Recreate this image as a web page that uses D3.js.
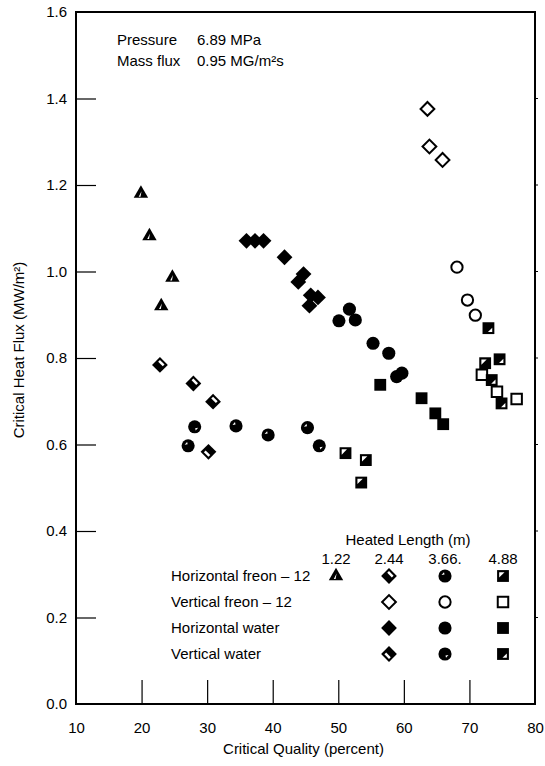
<!DOCTYPE html>
<html>
<head>
<meta charset="utf-8">
<script src="https://cdn.jsdelivr.net/npm/d3@7"></script>
<style>
body { margin: 0; background: #fff; }
text { font-family: "Liberation Sans", Arial, Helvetica, sans-serif; fill: #000; }
</style>
</head>
<body>
<svg id="svg1" width="545" height="766"></svg>
<script>
// data: [critical quality %, critical heat flux MW/m2]
var hFreon122 = [[19.9, 1.18], [21.2, 1.082], [24.7, 0.986], [23.0, 0.92]];
var hFreon244 = [[22.8, 0.784], [27.9, 0.741], [30.9, 0.699]];
var hFreon366 = [[27.1, 0.597], [34.4, 0.643], [39.3, 0.622], [45.3, 0.639]];
var hFreon488 = [[51.1, 0.580], [54.2, 0.564], [53.5, 0.512], [72.4, 0.788]];
var vFreon244 = [[63.6, 1.376], [63.9, 1.289], [65.9, 1.258]];
var vFreon366 = [[68.1, 1.010], [69.7, 0.934], [70.9, 0.899]];
var vFreon488 = [[71.9, 0.761], [74.2, 0.722], [77.2, 0.705]];
var hWater244 = [[36.0, 1.071], [37.3, 1.071], [38.6, 1.071], [41.8, 1.033],
                 [44.7, 0.994], [43.9, 0.976], [45.8, 0.945], [46.9, 0.940], [45.6, 0.921]];
var hWater366 = [[51.7, 0.913], [50.1, 0.886], [52.6, 0.888], [55.3, 0.834],
                 [57.7, 0.811], [58.9, 0.757], [59.7, 0.765]];
var hWater488 = [[56.4, 0.738], [62.7, 0.707], [64.8, 0.672], [66.0, 0.647]];
var vWater244 = [[30.2, 0.583]];
var vWater366 = [[28.1, 0.641], [47.1, 0.597]];
var vWater488 = [[72.9, 0.869], [74.6, 0.797], [73.4, 0.749], [74.9, 0.695]];

var xTicks = [10, 20, 30, 40, 50, 60, 70, 80];
var yTicks = [0.0, 0.2, 0.4, 0.6, 0.8, 1.0, 1.2, 1.4, 1.6];
var lengthLabels = ['1.22', '2.44', '3.66.', '4.88'];
var rowLabels = ['Horizontal freon \u2013 12', 'Vertical freon \u2013 12', 'Horizontal water', 'Vertical water'];
// legend grid: which marker style sits in each row/column (null = empty)
var legendGrid = [
    ['tri', 'diaH', 'circH', 'sqH'],
    [null, 'diaO', 'circO', 'sqO'],
    [null, 'diaF', 'circF', 'sqF'],
    [null, 'diaV', 'circV', 'sqV']
];

var series = [
    {data: hFreon122, style: 'tri'},
    {data: hFreon244, style: 'diaH'},
    {data: hFreon366, style: 'circH'},
    {data: hFreon488, style: 'sqH'},
    {data: vFreon244, style: 'diaO'},
    {data: vFreon366, style: 'circO'},
    {data: vFreon488, style: 'sqO'},
    {data: hWater244, style: 'diaF'},
    {data: hWater366, style: 'circF'},
    {data: hWater488, style: 'sqF'},
    {data: vWater244, style: 'diaV'},
    {data: vWater366, style: 'circV'},
    {data: vWater488, style: 'sqV'}
];

var svg = d3.select('#svg1');
var plot = {l: 76, r: 535, t: 12, b: 704};

var xScale = d3.scaleLinear().domain([10, 80]).range([plot.l, plot.r]);
var yScale = d3.scaleLinear().domain([0, 1.6]).range([plot.b, plot.t]);

// frame
svg.append('rect')
    .attr('x', plot.l).attr('y', plot.t)
    .attr('width', plot.r - plot.l).attr('height', plot.b - plot.t)
    .attr('fill', 'none').attr('stroke', '#000').attr('stroke-width', 2);

// axes with inward ticks
var yAxis = svg.append('g')
    .attr('transform', 'translate(' + plot.l + ',0)')
    .call(d3.axisLeft(yScale).tickValues(yTicks).tickSize(-20).tickPadding(9)
        .tickFormat(d3.format('.1f')));
yAxis.select('.domain').remove();
yAxis.selectAll('.tick line').attr('stroke-width', 1.2)
    .filter(function(d) { return d === 0 || d === 1.6; }).remove();
yAxis.selectAll('.tick text').style('font-size', '15px').attr('fill', '#000');

var xAxis = svg.append('g')
    .attr('transform', 'translate(0,' + plot.b + ')')
    .call(d3.axisBottom(xScale).tickValues(xTicks).tickSize(-24).tickPadding(18));
xAxis.select('.domain').remove();
xAxis.selectAll('.tick line').attr('stroke-width', 1.2)
    .filter(function(d) { return d === 10 || d === 80; }).remove();
xAxis.selectAll('.tick text').style('font-size', '15px').attr('fill', '#000');

// right side small ticks
svg.append('g').selectAll('line')
    .data(yTicks.slice(1, -1))
    .enter().append('line')
    .attr('x1', plot.r).attr('x2', plot.r + 3)
    .attr('y1', function(d) { return yScale(d); })
    .attr('y2', function(d) { return yScale(d); })
    .attr('stroke', '#000').attr('stroke-width', 1);

// axis titles
svg.append('text')
    .attr('x', (plot.l + plot.r) / 2 - 2).attr('y', 754)
    .attr('text-anchor', 'middle')
    .style('font-size', '15px')
    .text('Critical Quality (percent)');

svg.append('text')
    .attr('transform', 'translate(24,350) rotate(-90)')
    .attr('text-anchor', 'middle')
    .style('font-size', '15px')
    .text('Critical Heat Flux (MW/m\u00b2)');

// conditions note
var note = svg.append('g').style('font-size', '15px');
note.append('text').attr('x', 117).attr('y', 45).text('Pressure');
note.append('text').attr('x', 197).attr('y', 45).text('6.89 MPa');
note.append('text').attr('x', 117).attr('y', 66).text('Mass flux');
note.append('text').attr('x', 197).attr('y', 66).text('0.95 MG/m\u00b2s');

// marker drawing
var sym = {
    tri: d3.symbol().type(d3.symbolTriangle).size(90)(),
    dia: d3.symbol().type(d3.symbolSquare).size(125)(),
    circ: d3.symbol().type(d3.symbolCircle).size(135)(),
    sq: d3.symbol().type(d3.symbolSquare).size(140)()
};

function drawMarker(g, style) {
    var shape = style.replace(/[HOFV]$/, '');
    var kind = style.slice(-1);
    var rot = shape === 'dia' ? 'rotate(45)' : null;
    if (style === 'tri') {
        g.append('path').attr('d', sym.tri).attr('fill', '#000');
        g.append('path').attr('d', 'M0.6,-2.5 L-2.2,3 L-0.4,3 Z').attr('fill', '#fff');
        return;
    }
    if (kind === 'O') {
        var openSize = {dia: 95, circ: 100, sq: 110}[shape];
        g.append('path')
            .attr('d', d3.symbol().type(shape === 'circ' ? d3.symbolCircle : d3.symbolSquare).size(openSize)())
            .attr('transform', rot)
            .attr('fill', '#fff').attr('stroke', '#000').attr('stroke-width', 2);
        return;
    }
    g.append('path').attr('d', sym[shape]).attr('transform', rot).attr('fill', '#000');
    if (kind === 'F') return;
    // white cut-out: horizontal freon = upper-left, vertical water = lower-right
    var w;
    if (shape === 'circ') {
        w = kind === 'H' ? 'M-3.5,-1 L-1,-3.8 L-0.5,-1.5 Z' : 'M3.5,1 L1,3.8 L0.5,1.5 Z';
        g.append('path').attr('d', w).attr('fill', '#fff');
    } else if (shape === 'sq') {
        w = kind === 'H' ? 'M-3.8,-3.8 L1.5,-3.8 L-3.8,1.5 Z' : 'M3.8,3.8 L-0.5,3.8 L3.8,-0.5 Z';
        g.append('path').attr('d', w).attr('fill', '#fff');
    } else {
        w = kind === 'H' ? 'M-3.5,-3.5 L3,-3.5 L3,-1 L-3.5,-1 Z' : 'M-3,1 L3.5,1 L3.5,3.5 L-3,3.5 Z';
        g.append('path').attr('d', w).attr('transform', rot).attr('fill', '#fff');
    }
}

series.forEach(function(s) {
    svg.append('g').selectAll('g')
        .data(s.data)
        .enter().append('g')
        .attr('transform', function(d) { return 'translate(' + xScale(d[0]) + ',' + yScale(d[1]) + ')'; })
        .each(function() { drawMarker(d3.select(this), s.style); });
});

// legend
var legend = svg.append('g').style('font-size', '15px');
var colX = [336, 389, 445, 503];
var rowY = [576, 602, 628, 654];

legend.append('text')
    .attr('x', 408).attr('y', 545)
    .attr('text-anchor', 'middle')
    .text('Heated Length (m)');

legend.selectAll('.len')
    .data(lengthLabels)
    .enter().append('text')
    .attr('class', 'len')
    .attr('x', function(d, i) { return colX[i]; })
    .attr('y', 564)
    .attr('text-anchor', 'middle')
    .text(function(d) { return d; });

legend.selectAll('.row')
    .data(rowLabels)
    .enter().append('text')
    .attr('class', 'row')
    .attr('x', 171)
    .attr('y', function(d, i) { return rowY[i] + 5; })
    .text(function(d) { return d; });

legendGrid.forEach(function(row, i) {
    row.forEach(function(style, j) {
        if (!style) return;
        var g = legend.append('g').attr('transform', 'translate(' + colX[j] + ',' + rowY[i] + ')');
        drawMarker(g, style);
    });
});
</script>
</body>
</html>
